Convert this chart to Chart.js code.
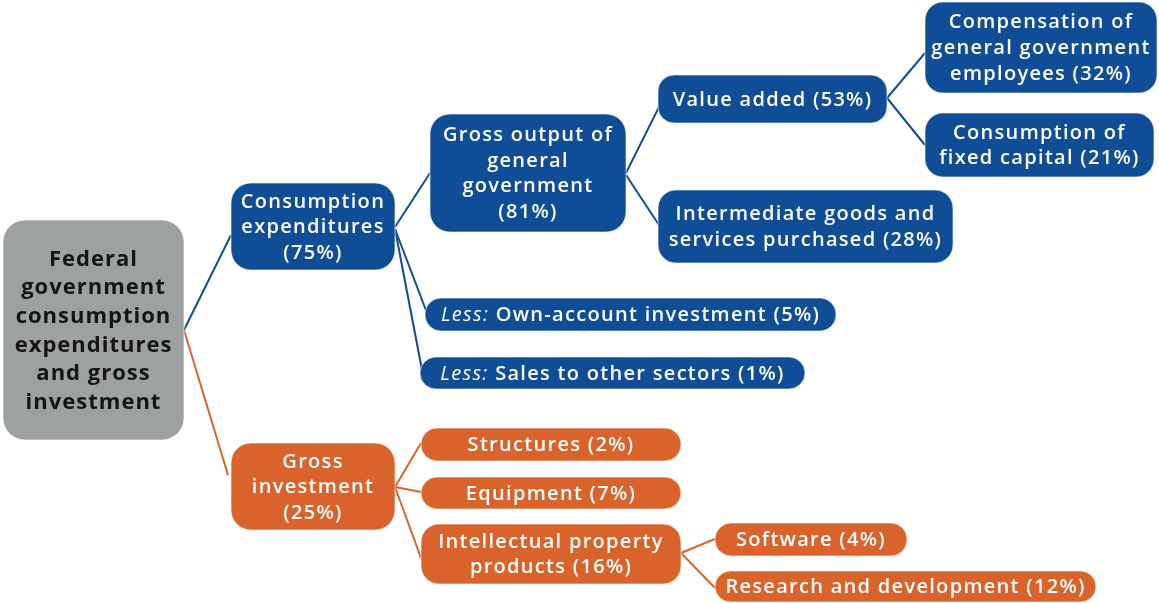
<!DOCTYPE html>
<html><head><meta charset="utf-8">
<script src="https://cdn.jsdelivr.net/npm/chart.js@4.4.0/dist/chart.umd.min.js"></script>
<style>html,body{margin:0;padding:0;background:#fff;overflow:hidden}</style>
</head><body><canvas id="c" width="1159" height="603"></canvas>
<script>
// ---------- data ----------
const nodeNames = [
  "Federal|government|consumption|expenditures|and gross|investment",
  "Consumption|expenditures",
  "Gross|investment",
  "Gross output of|general|government",
  "Less: Own-account investment",
  "Less: Sales to other sectors",
  "Value added",
  "Intermediate goods and|services purchased",
  "Compensation of|general government|employees",
  "Consumption of|fixed capital",
  "Structures",
  "Equipment",
  "Intellectual property|products",
  "Software",
  "Research and development"
];
const nodeShares  = [null, 75, 25, 81, 5, 1, 53, 28, 32, 21, 2, 7, 16, 4, 12];
const nodeParents = [-1, 0, 0, 1, 1, 1, 3, 3, 6, 6, 2, 2, 2, 12, 12];
const nodeGroups  = ["root","cons","inv","cons","cons","cons","cons","cons","cons","cons","inv","inv","inv","inv","inv"];

// ---------- layout (scale units) ----------
const boxLeft   = [3, 231, 231, 430, 425, 420, 658, 658, 925, 925, 421, 421, 421, 715, 715];
const boxTop    = [220, 183, 443, 114, 298, 357, 75, 190, 2, 113, 428, 477, 524, 523, 571];
const boxRight  = [184, 395, 395, 626, 836, 805, 887, 953, 1157, 1154, 681, 681, 681, 907, 1096];
const boxBottom = [440, 270, 530, 232, 331, 389, 123, 263, 93, 177, 461, 509, 584, 556, 602];
const boxRadius = [22, 20, 20, 20, 16, 16, 16, 18, 18, 18, 16, 16, 18, 16, 16];
const shareOnNewLine = [false, true, true, true, false, false, false, false, false, false, false, false, false, false, false];
const edgeStartY = [null, 330, 330, 227, 229, 229, 173, 175, 98, 98, 487, 487, 487, 553, 553];
const edgeEndX   = [null, 231, 228, 430, 427, 422, 659, 659, 925, 925, 421, 421, 421, 715, 715];
const edgeEndY   = [null, 235, 475, 173, 313, 370, 107, 225, 53, 145, 443, 492, 558, 539, 588];

const groupColors = {root: "#9ea1a1", cons: "#0f4d97", inv: "#da632b"};
const textColors  = {root: "#151515", cons: "#ffffff", inv: "#ffffff"};

// ---------- build ----------
function nodeLines(i) {
  const lines = nodeNames[i].split("|");
  if (nodeShares[i] !== null) {
    const s = "(" + nodeShares[i] + "%)";
    if (shareOnNewLine[i]) lines.push(s); else lines[lines.length - 1] += " " + s;
  }
  return lines;
}

const edgeDatasets = [];
nodeParents.forEach((p, i) => {
  if (p < 0) return;
  edgeDatasets.push({
    data: [{x: boxRight[p], y: edgeStartY[i]}, {x: edgeEndX[i], y: edgeEndY[i]}],
    borderColor: groupColors[nodeGroups[i]],
    borderWidth: 2,
    pointRadius: 0,
    tension: 0,
    clip: false
  });
});

const FONT_MAIN = "600 20px 'Open Sans'";
const FONT_ITAL = "italic 400 20px 'Open Sans'";
const FONT_ROOT = "700 22px 'Open Sans'";

const boxPlugin = {
  id: "boxes",
  afterDatasetsDraw(chart) {
    const ctx = chart.ctx, xs = chart.scales.x, ys = chart.scales.y;
    ctx.save();
    nodeNames.forEach((n, i) => {
      const x0 = xs.getPixelForValue(boxLeft[i]), x1 = xs.getPixelForValue(boxRight[i]);
      const y0 = ys.getPixelForValue(boxTop[i]), y1 = ys.getPixelForValue(boxBottom[i]);
      const g = nodeGroups[i];
      ctx.beginPath();
      ctx.roundRect(x0, y0, x1 - x0, y1 - y0, boxRadius[i]);
      ctx.fillStyle = groupColors[g];
      ctx.fill();
      ctx.lineWidth = 1;
      ctx.strokeStyle = "rgba(255,255,255,0.6)";
      ctx.stroke();

      const lines = nodeLines(i);
      const isRoot = g === "root";
      const lh = isRoot ? 28.7 : (i === 8 ? 26 : 25.5);
      const cx = (x0 + x1) / 2, cy = (y0 + y1) / 2;
      ctx.fillStyle = textColors[g];
      ctx.textBaseline = "middle";
      ctx.letterSpacing = isRoot ? "1px" : "1.3px";
      lines.forEach((ln, k) => {
        const y = cy + (k - (lines.length - 1) / 2) * lh + 1;
        if (ln.startsWith("Less: ")) {
          const a = "Less: ", b = ln.slice(6);
          ctx.font = FONT_ITAL; const wa = ctx.measureText(a).width;
          ctx.font = FONT_MAIN; const wb = ctx.measureText(b).width;
          let sx = cx - (wa + wb) / 2;
          ctx.textAlign = "left";
          ctx.font = FONT_ITAL; ctx.fillText(a, sx, y);
          ctx.font = FONT_MAIN; ctx.fillText(b, sx + wa, y);
        } else {
          ctx.textAlign = "center";
          ctx.font = isRoot ? FONT_ROOT : FONT_MAIN;
          ctx.fillText(ln, cx, y);
        }
      });
    });
    ctx.restore();
  }
};

new Chart(document.getElementById("c"), {
  type: "line",
  data: {datasets: edgeDatasets},
  options: {
    responsive: false,
    animation: false,
    events: [],
    layout: {padding: 0},
    plugins: {legend: {display: false}, tooltip: {enabled: false}},
    scales: {
      x: {type: "linear", min: 0, max: 1159, display: false},
      y: {type: "linear", min: 0, max: 603, reverse: true, display: false}
    }
  },
  plugins: [boxPlugin]
});
</script>
</body></html>
